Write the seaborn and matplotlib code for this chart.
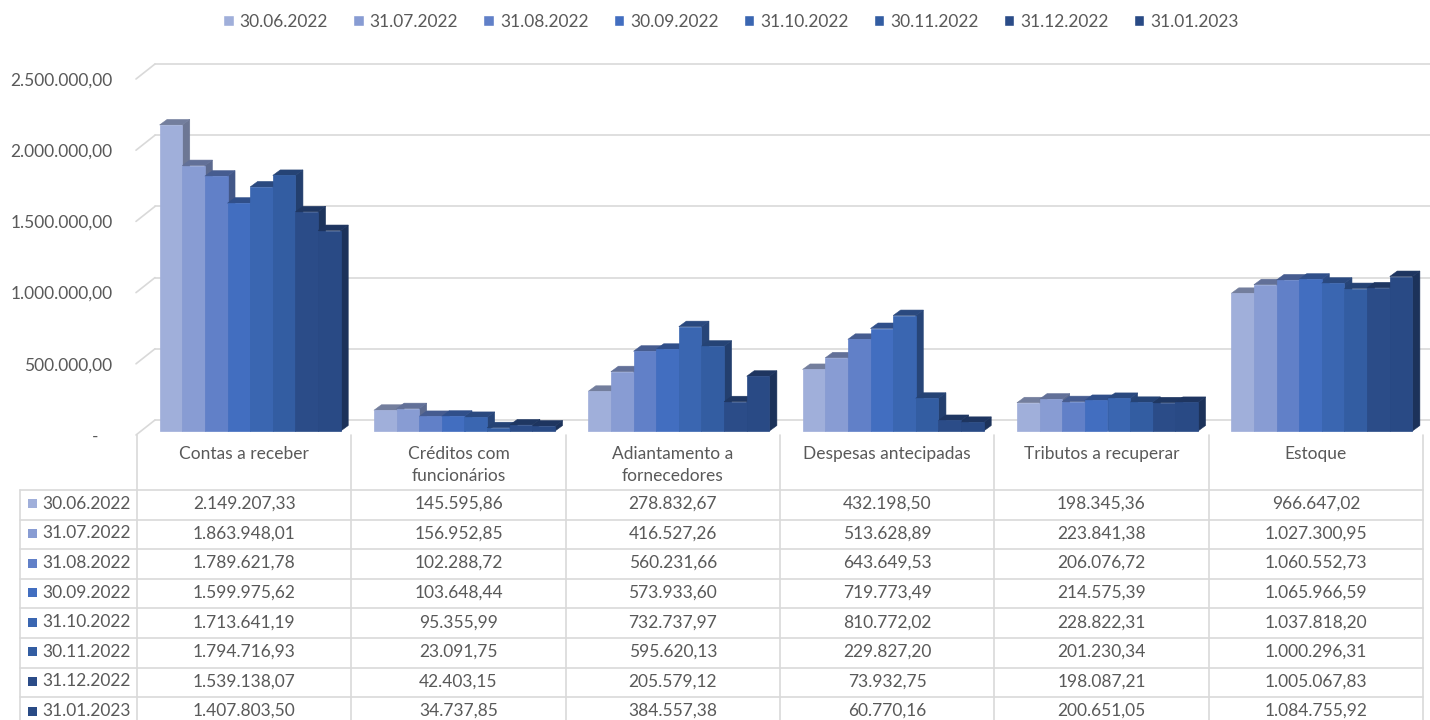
import numpy as np
import pandas as pd
import seaborn as sns
import matplotlib.pyplot as plt
from matplotlib.patches import Polygon, Patch, Rectangle
from matplotlib.colors import to_rgb
from matplotlib.transforms import ScaledTranslation

# categories (x axis / table columns)
categories = ['Contas a receber', 'Créditos com funcionários', 'Adiantamento a fornecedores',
              'Despesas antecipadas', 'Tributos a recuperar', 'Estoque']
header_labels = ['Contas a receber', 'Créditos com\nfuncionários', 'Adiantamento a\nfornecedores',
                 'Despesas antecipadas', 'Tributos a recuperar', 'Estoque']
dates = ['30.06.2022', '31.07.2022', '31.08.2022', '30.09.2022',
         '31.10.2022', '30.11.2022', '31.12.2022', '31.01.2023']

# one list per date, same order as categories
jun22 = [2149207.33, 145595.86, 278832.67, 432198.50, 198345.36, 966647.02]
jul22 = [1863948.01, 156952.85, 416527.26, 513628.89, 223841.38, 1027300.95]
ago22 = [1789621.78, 102288.72, 560231.66, 643649.53, 206076.72, 1060552.73]
set22 = [1599975.62, 103648.44, 573933.60, 719773.49, 214575.39, 1065966.59]
out22 = [1713641.19, 95355.99, 732737.97, 810772.02, 228822.31, 1037818.20]
nov22 = [1794716.93, 23091.75, 595620.13, 229827.20, 201230.34, 1000296.31]
dez22 = [1539138.07, 42403.15, 205579.12, 73932.75, 198087.21, 1005067.83]
jan23 = [1407803.50, 34737.85, 384557.38, 60770.16, 200651.05, 1084755.92]
series = [jun22, jul22, ago22, set22, out22, nov22, dez22, jan23]

colors = ['#A0AFDA', '#889CD3', '#6180C8', '#426EC0', '#3A66B1', '#335DA2', '#2B4C88', '#294A85']
yticks = [0, 500000, 1000000, 1500000, 2000000, 2500000]
ytick_labels = ['-   ', '500.000,00', '1.000.000,00', '1.500.000,00', '2.000.000,00', '2.500.000,00']

rows = []
for d, vals in zip(dates, series):
    for c, v in zip(categories, vals):
        rows.append({'categoria': c, 'data': d, 'valor': v})
df = pd.DataFrame(rows)


def fmt_br(v):
    return f"{v:,.2f}".replace(',', 'X').replace('.', ',').replace('X', '.')


sns.set_style('white')
plt.rcParams['font.family'] = ['Lato', 'DejaVu Sans']
FS = 12.5
TXT = '#595959'
GRID = '#D9D9D9'

W, H = 1430, 720
fig = plt.figure(figsize=(W / 100, H / 100), dpi=100)

# table / decoration layer in pixel coords
tab = fig.add_axes([0, 0, 1, 1], zorder=0)
tab.set_xlim(0, W)
tab.set_ylim(H, 0)
tab.axis('off')

ax = fig.add_axes([143 / W, 1 - 431 / H, 1286 / W, 356 / H], zorder=1)
ax.patch.set_alpha(0)
sns.barplot(data=df, x='categoria', y='valor', hue='data', order=categories, hue_order=dates,
            palette=colors, saturation=1, width=0.845, linewidth=0, legend=False, ax=ax)
ax.set_xlim(-0.5, 5.5)
ax.set_ylim(0, 2500000)
ax.set_xlabel('')
ax.set_ylabel('')
ax.set_xticks([])
sns.despine(ax=ax, left=True, bottom=True)

sx = 6 / 1286          # data units per pixel, x
sy = 2500000 / 356     # data units per pixel, y

# back-wall gridlines and the little diagonal ticks
for v in yticks:
    ax.plot([-0.5 + 12 * sx, 5.5 + 2 * sx], [v + 11 * sy] * 2, color=GRID, lw=1.2,
            clip_on=False, zorder=0)
    ax.plot([-0.5 - 7 * sx, -0.5 + 12 * sx], [v - 4 * sy, v + 11 * sy], color=GRID, lw=1.2,
            clip_on=False, zorder=0)

ax.set_yticks(yticks, ytick_labels)
ax.tick_params(axis='y', length=0, pad=22, labelsize=FS, labelcolor=TXT)
for lbl in ax.get_yticklabels():
    lbl.set_transform(lbl.get_transform() + ScaledTranslation(0, -0.04, fig.dpi_scale_trans))

# fake 3d: top and side faces for every bar
ddx, ddy = 7.5 * sx, 5.5 * sy
bars = sorted(ax.patches, key=lambda p: p.get_x())
for k, p in enumerate(bars):
    x0, w, h = p.get_x(), p.get_width(), p.get_height()
    base = np.array(to_rgb(p.get_facecolor()))
    x1 = x0 + w
    side = Polygon([(x1, 0), (x1 + ddx, ddy), (x1 + ddx, h + ddy), (x1, h)], closed=True,
                   facecolor=base * 0.68, edgecolor=base * 0.68, lw=0.4, zorder=2 + 2 * k,
                   clip_on=False)
    top = Polygon([(x0, h), (x0 + ddx, h + ddy), (x1 + ddx, h + ddy), (x1, h)], closed=True,
                  facecolor=base * 0.72, edgecolor=base * 0.72, lw=0.4, zorder=2 + 2 * k,
                  clip_on=False)
    ax.add_patch(side)
    ax.add_patch(top)
    p.set_edgecolor(base)
    p.set_linewidth(0.5)
    p.set_zorder(3 + 2 * k)
    p.set_clip_on(False)

# legend on top
handles = [Patch(facecolor=c, label=d) for c, d in zip(colors, dates)]
fig.legend(handles=handles, loc='center', bbox_to_anchor=(731 / W, 1 - 22 / H), ncol=8,
           frameon=False, fontsize=FS, handlelength=0.6, handleheight=0.6,
           handletextpad=0.35, columnspacing=1.45, labelcolor=TXT)

# data table
col_left, col_w = 137, 1286 / 6
row_top, row_h = 490, 29.6
lc = dict(color=GRID, lw=1.2)
for i in range(7):
    xx = col_left + i * col_w
    tab.plot([xx, xx], [435, H], **lc)
tab.plot([20, 20], [row_top, H], **lc)
for k in range(len(dates)):
    yy = row_top + k * row_h
    tab.plot([20, col_left + 6 * col_w], [yy, yy], **lc)

for i, lab in enumerate(header_labels):
    tab.text(col_left + (i + 0.5) * col_w, 446, lab, ha='center', va='top', fontsize=FS,
             color=TXT, linespacing=1.45)

for k, (d, vals) in enumerate(zip(dates, series)):
    yc = row_top + (k + 0.5) * row_h - 1
    tab.add_patch(Rectangle((28, yc - 4.5), 9, 9, facecolor=colors[k], lw=0))
    tab.text(42, yc, d, ha='left', va='center', fontsize=FS, color=TXT)
    for i, v in enumerate(vals):
        tab.text(col_left + (i + 0.5) * col_w, yc, fmt_br(v), ha='center', va='center',
                 fontsize=FS, color=TXT)

fig.savefig('out.png', dpi=100)
